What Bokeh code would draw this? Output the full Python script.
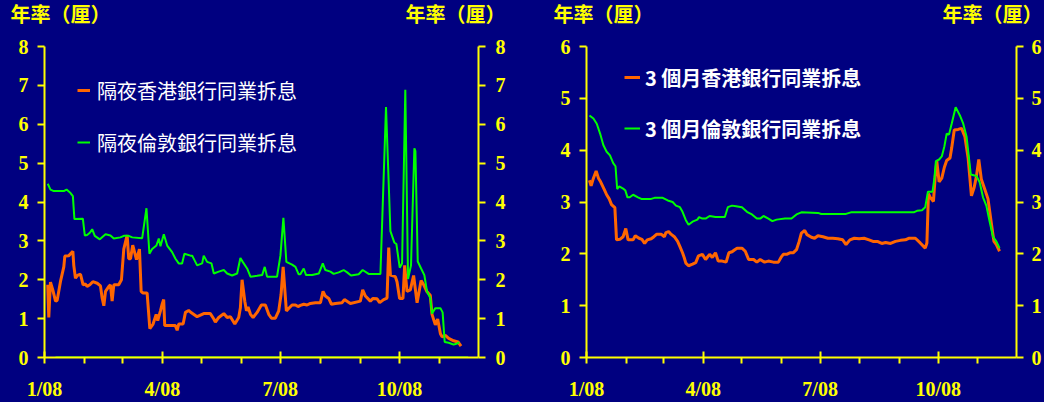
from bokeh.plotting import figure
from bokeh.models import Range1d, LinearAxis, FixedTicker, Label, Legend, LegendItem
from bokeh.layouts import row, column
from bokeh.embed import file_html
from bokeh.resources import INLINE

BG = "#000080"
YEL = "#FFFF00"
ORANGE = "#FF6600"
GREEN = "#00FF00"
WHITE = "#FFFFFF"

# x positions are days since 1 Jan 2008
month_ticks = [0, 91, 182, 274]
month_labels = ["1/08", "4/08", "7/08", "10/08"]
minor_month_ticks = [31, 60, 121, 152, 213, 244, 305]
x_start, x_end = 0, 335

axis_title = "年率（厘）"

# ---- Left panel: overnight rates ----
on_hibor_label = "隔夜香港銀行同業拆息"
on_hibor_day = [2.5, 3.3, 4.6, 6.4, 8.5, 9.8, 12.3, 14.9, 15.7, 18.8, 21.9, 22.6, 23.9, 25.7, 27.8,
                29.8, 31.6, 32.9, 35, 37.3, 40.7, 43.2, 44.5, 45.8, 47.1, 49.7, 50.9, 52.2, 53.5,
                57.3, 59.4, 61.2, 63.8, 65, 66.4, 68.1, 71, 73.3, 74.6, 75.9, 79.2, 81.3, 83.8,
                86.2, 87.4, 89.5, 90.8, 92, 92.8, 98.5, 101, 102.4, 103.6, 107, 108.8, 111.3,
                112.6, 117.8, 122.9, 128, 130.7, 131.9, 134.5, 138.4, 141, 143.5, 146.9, 149.9,
                151.2, 152.5, 154.6, 155.9, 157.1, 159, 161, 164.1, 167.4, 170.5, 173.1, 175.2,
                178.2, 180.8, 182.6, 184.2, 185.4, 186.7, 189, 191.1, 193.7, 195.7, 197.5, 200.1,
                202.7, 205.2, 209.1, 213, 215, 216.8, 219.4, 221.5, 224.5, 229.7, 231.5, 236.1,
                243.8, 245.6, 247.7, 251.5, 253.6, 256.7, 258.7, 261.8, 264.4, 265.7, 267, 270.8,
                272.1, 274.1, 276.7, 278, 279.8, 282.4, 284.9, 287.6, 290.7, 292.7, 295.3, 297.8,
                299.1, 301.7, 303.5, 305.6, 306.9, 309.4, 312, 315.8, 319.2, 321.5]
on_hibor = [1.87, 1.03, 1.94, 1.74, 1.45, 1.47, 1.95, 2.33, 2.61, 2.62, 2.73, 2.37, 2.04, 2.12, 2.14,
            1.87, 1.89, 1.83, 1.87, 1.95, 1.91, 1.84, 1.53, 1.33, 1.70, 1.83, 1.87, 1.45, 1.87,
            1.87, 2.0, 2.79, 3.15, 2.54, 2.54, 2.89, 2.52, 2.79, 1.70, 1.66, 1.66, 0.74, 0.86,
            1.11, 0.95, 1.20, 1.37, 1.49, 0.82, 0.82, 0.82, 0.70, 0.86, 0.86, 1.16, 1.21,
            1.17, 1.05, 1.13, 1.13, 0.99, 0.91, 1.03, 1.13, 1.03, 1.05, 0.86, 1.03,
            1.28, 2.0, 1.45, 1.20, 1.30, 1.11, 1.03, 1.16, 1.35, 1.35, 1.11, 1.01,
            1.01, 1.20, 1.62, 2.33, 1.79, 1.20, 1.28, 1.35, 1.35, 1.31, 1.34, 1.37,
            1.35, 1.39, 1.41, 1.41, 1.70, 1.58, 1.52, 1.37, 1.39, 1.41, 1.49, 1.39,
            1.45, 1.74, 1.58, 1.45, 1.52, 1.51, 1.41, 1.49, 1.53, 2.83, 2.12, 2.08,
            1.95, 1.52, 1.52, 2.37, 1.70, 1.74, 2.11, 1.41, 1.98, 1.87, 1.69, 1.60,
            1.11, 0.84, 0.99, 0.61, 0.53, 0.57, 0.49, 0.43, 0.40, 0.29]

on_libor_label = "隔夜倫敦銀行同業拆息"
on_libor_day = [2.5, 4.6, 7.2, 14.9, 17, 20.1, 21.9, 23.1, 29.6, 31.1, 32.9, 35, 36.8, 38.8, 42.7,
                47.1, 50.9, 53.5, 58.6, 61.2, 65, 67.7, 75.4, 78.7, 81, 83.1, 86.4, 88.2, 89.5,
                92.1, 94.7, 98.5, 101.1, 103.6, 106.2, 108, 112.7, 114, 117.8, 121.7, 122.9,
                125.5, 128.9, 130.7, 134.5, 138.4, 141, 144.8, 148.7, 151.2, 153, 156.4, 159,
                164.1, 168, 170, 171.8, 179.5, 182.1, 184.4, 186.7, 191.1, 193.7, 196.2, 197.5,
                200.1, 201.9, 206.6, 211.7, 214.8, 216.8, 220.7, 223.2, 227.1, 230.9, 233.6,
                236.6, 242.5, 245.6, 250.2, 259.3, 263.6, 267, 270, 271.6, 274.2, 276, 278.5,
                280.6, 282.9, 285.5, 286.3, 288.1, 290.7, 293.2, 295.3, 297.8, 299.1, 301.7,
                305.6, 307.3, 308.9, 312, 315.8, 318.4, 320.2]
on_libor = [4.47, 4.32, 4.28, 4.28, 4.32, 4.23, 4.15, 3.56, 3.57, 3.14, 3.15, 3.21, 3.30, 3.13, 3.04,
            3.17, 3.14, 3.06, 3.09, 3.13, 3.13, 3.09, 3.07, 3.84, 2.67, 2.79, 2.88, 3.06, 2.86,
            3.17, 2.88, 2.71, 2.54, 2.42, 2.42, 2.67, 2.62, 2.62, 2.37, 2.42, 2.62,
            2.46, 2.42, 2.16, 2.21, 2.25, 2.16, 2.11, 2.16, 2.56, 2.46, 2.29, 2.08,
            2.10, 2.12, 2.33, 2.08, 2.08, 2.62, 3.59, 2.46, 2.39, 2.33, 2.14, 2.14,
            2.29, 2.12, 2.12, 2.16, 2.42, 2.25, 2.21, 2.15, 2.19, 2.25, 2.19,
            2.11, 2.14, 2.25, 2.15, 2.15, 6.44, 3.25, 2.96, 2.92, 2.31, 2.42, 6.89,
            2.02, 2.37, 5.38, 5.31, 2.47, 2.29, 2.12, 1.69, 1.53, 1.13, 1.27,
            1.27, 1.16, 0.40, 0.38, 0.33, 0.36, 0.39]

# green zero-level trace along the bottom of the left panel
zero_trace_day = [8.5, 327]
zero_trace = [0, 0]

# ---- Right panel: 3-month rates ----
m3_hibor_label = "3 個月香港銀行同業拆息"
m3_hibor_day = [2.3, 3.6, 5.4, 7.5, 9.3, 11, 13.7, 15.7, 17.7, 19.5, 22.1, 23.4, 26, 28.5, 30.6,
                32.4, 36.3, 38, 40.9, 43.2, 45.3, 47.3, 50.4, 52.5, 54.8, 58.1, 60.7, 61.9, 64,
                65.8, 68.4, 71, 72.8, 74.8, 76.1, 77.4, 79.5, 82.6, 85.1, 87.2, 90.3, 92.8, 95.9,
                98, 100.5, 102.6, 105.7, 108.8, 110.9, 113.4, 115.5, 117.3, 121.1, 123.7, 126.3,
                130.2, 132.7, 135.3, 138.7, 141.7, 145.6, 149.5, 151.5, 153.3, 155.9, 158.4, 161,
                163.6, 165.7, 167.4, 170, 171.8, 175.2, 177.7, 180.3, 184.2, 188.1, 191.9, 195.8,
                199.6, 202.2, 205.2, 208.6, 212.4, 216.3, 220.1, 223.2, 226.6, 230, 233, 236.9,
                240.7, 244.6, 248.5, 251, 256.2, 260, 263.9, 265.2, 266.4, 267.8, 270.3, 271.6,
                272.9, 274.7, 276.8, 278.8, 280.6, 283.2, 284.5, 286.5, 289.6, 292.2, 294.8,
                297.3, 299.9, 302, 303.8, 305.6, 307.6, 310.2, 312.8, 315.4, 317.4, 319.3, 321.8]
m3_hibor = [3.42, 3.31, 3.46, 3.60, 3.46, 3.39, 3.25, 3.14, 3.06, 2.95, 2.89, 2.27, 2.28, 2.33, 2.49,
            2.27, 2.27, 2.35, 2.30, 2.28, 2.20, 2.27, 2.29, 2.33, 2.38, 2.38, 2.33, 2.41, 2.43,
            2.38, 2.33, 2.24, 2.14, 2.02, 1.93, 1.82, 1.77, 1.80, 1.83, 1.96, 1.99, 1.89, 1.99,
            1.93, 2.02, 1.86, 1.86, 1.84, 2.02, 2.04, 2.08, 2.11, 2.11, 2.05, 1.89,
            1.89, 1.84, 1.89, 1.84, 1.86, 1.84, 1.84, 1.93, 1.99, 1.99, 2.02, 2.02,
            2.08, 2.24, 2.40, 2.45, 2.37, 2.32, 2.30, 2.35, 2.33, 2.30, 2.30, 2.29,
            2.27, 2.18, 2.27, 2.30, 2.29, 2.30, 2.27, 2.24, 2.24, 2.20, 2.22, 2.20,
            2.24, 2.26, 2.27, 2.30, 2.30, 2.21, 2.11, 2.21, 3.16, 3.09, 3.01, 3.47,
            3.79, 3.39, 3.46, 3.67, 3.80, 3.85, 4.04, 4.39, 4.40, 4.42, 4.26,
            3.85, 3.12, 3.28, 3.50, 3.82, 3.44, 3.25, 3.06, 2.59, 2.24, 2.18, 2.05]

m3_libor_label = "3 個月倫敦銀行同業拆息"
m3_libor_day = [2.3, 5.4, 8, 10.6, 13.1, 15.7, 18.3, 20.8, 22.6, 23.9, 25.5, 28.5, 30.3, 31.9, 33.7,
                36.3, 40.1, 42.7, 50.4, 53, 59.4, 63.3, 67.1, 69.7, 72.8, 74.8, 77.4, 79.5, 82.6,
                86.4, 87.7, 90.3, 92.8, 95.9, 100.5, 107.8, 110.1, 113.4, 116.5, 121.1, 125,
                128.9, 132.7, 135.3, 137.9, 141.7, 144.8, 148.1, 154.6, 159.7, 163.6, 167.4,
                180.3, 182.9, 202.2, 206, 230.5, 254.9, 257.5, 261.4, 263.9, 266, 269.6, 271.1,
                272.2, 274.7, 276.8, 278.8, 280.6, 282.4, 284.5, 287.6, 290.9, 293.5, 296.1,
                299.4, 303.8, 306.3, 308.9, 311.5, 314.1, 316.7, 319.3, 321.8]
m3_libor = [4.67, 4.61, 4.51, 4.32, 4.10, 3.97, 3.90, 3.75, 3.69, 3.25, 3.30, 3.26, 3.22, 3.09, 3.09,
            3.14, 3.09, 3.06, 3.06, 3.08, 3.08, 3.03, 3.00, 2.93, 2.90, 2.81, 2.65, 2.56, 2.62,
            2.66, 2.71, 2.68, 2.68, 2.73, 2.71, 2.71, 2.90, 2.93, 2.92, 2.90, 2.81,
            2.76, 2.68, 2.68, 2.73, 2.68, 2.63, 2.66, 2.68, 2.68, 2.76, 2.80,
            2.79, 2.77, 2.77, 2.80, 2.80, 2.80, 2.83, 2.84, 2.90, 3.20, 3.20, 3.47,
            3.79, 3.82, 3.88, 4.07, 4.32, 4.30, 4.51, 4.83, 4.67, 4.51, 4.26,
            3.53, 3.50, 3.38, 3.09, 2.93, 2.62, 2.33, 2.24, 2.11]

left_y_max, right_y_max = 8, 6

FIG_W = 522
HEAD_H = 36
MAIN_H = 366
FRAME_H = 312
TOP = 10
BOTTOM = MAIN_H - TOP - FRAME_H


def style_common(ax):
    ax.axis_line_color = YEL
    ax.axis_line_width = 2
    ax.major_tick_line_color = YEL
    ax.major_tick_line_width = 2
    ax.minor_tick_line_color = YEL
    ax.minor_tick_line_width = 2
    ax.major_label_text_color = YEL
    ax.major_label_text_font = "Liberation Serif"
    ax.major_label_text_font_style = "bold"
    ax.major_label_text_font_size = "20px"


def make_header(left_x, right_x):
    h = figure(width=FIG_W, height=HEAD_H, x_range=Range1d(0, FIG_W), y_range=Range1d(0, HEAD_H),
               output_backend="svg", toolbar_location=None,
               x_axis_location=None, y_axis_location=None,
               background_fill_color=BG, border_fill_color=BG, outline_line_color=None,
               min_border=0)
    h.grid.visible = False
    for x, align in ((left_x, "left"), (right_x, "right")):
        h.add_layout(Label(x=x, y=HEAD_H - 13, x_units="screen", y_units="screen",
                           text=axis_title, text_color=YEL, text_font="Noto Sans CJK TC",
                           text_font_style="bold", text_font_size="20px",
                           text_align=align, text_baseline="middle"))
    return h


def make_panel(ymax, border_left, frame_w, right_standoff, legend_items_spec, legend_pos,
               glyph_w, standoff, spacing, label_style, lines):
    border_right = FIG_W - border_left - frame_w
    p = figure(width=FIG_W, height=MAIN_H, x_range=Range1d(x_start, x_end),
               y_range=Range1d(0, ymax), output_backend="svg", toolbar_location=None,
               background_fill_color=BG, border_fill_color=BG, outline_line_color=None,
               min_border_left=border_left, min_border_right=border_right,
               min_border_top=TOP, min_border_bottom=BOTTOM)
    p.grid.visible = False

    p.yaxis.ticker = FixedTicker(ticks=list(range(0, ymax + 1)))
    right_axis = LinearAxis(ticker=FixedTicker(ticks=list(range(0, ymax + 1))))
    p.add_layout(right_axis, "right")
    for ax in (p.yaxis[0], right_axis):
        style_common(ax)
        ax.major_tick_in = 0
        ax.major_tick_out = 7
        ax.minor_tick_line_color = None
    p.yaxis[0].major_label_standoff = 9
    right_axis.major_label_standoff = right_standoff

    xa = p.xaxis[0]
    xa.ticker = FixedTicker(ticks=month_ticks, minor_ticks=minor_month_ticks)
    xa.major_label_overrides = {t: l for t, l in zip(month_ticks, month_labels)}
    style_common(xa)
    xa.major_tick_in = 6
    xa.major_tick_out = 6
    xa.minor_tick_in = 0
    xa.minor_tick_out = 6
    xa.major_label_standoff = 14

    renderers = {}
    for key, xs, ys, color, width in lines:
        renderers[key] = p.line(xs, ys, line_color=color, line_width=width)

    items = [LegendItem(label=lab, renderers=[renderers[k]]) for k, lab in legend_items_spec]
    legend = Legend(items=items, location=legend_pos, padding=0, margin=0,
                    border_line_color=None, background_fill_alpha=0,
                    glyph_width=glyph_w, glyph_height=30, label_height=30,
                    label_standoff=standoff, spacing=spacing,
                    label_text_color=WHITE, label_text_font="Noto Sans CJK TC",
                    label_text_font_size="20px", label_text_font_style=label_style)
    p.add_layout(legend, "center")
    return p


h1 = make_header(10, 505)
p1 = make_panel(
    left_y_max, 44, 434, 10,
    [("hk", on_hibor_label), ("ld", on_libor_label)],
    (33, 200), 13, 7, 22, "normal",
    [("zero", zero_trace_day, zero_trace, GREEN, 2),
     ("hk", on_hibor_day, on_hibor, ORANGE, 3),
     ("ld", on_libor_day, on_libor, GREEN, 2)])

h2 = make_header(31, 520)
p2 = make_panel(
    right_y_max, 64, 432, 8,
    [("hk", m3_hibor_label), ("ld", m3_libor_label)],
    (38, 214), 16, 5, 21, "bold",
    [("hk", m3_hibor_day, m3_hibor, ORANGE, 3),
     ("ld", m3_libor_day, m3_libor, GREEN, 2)])

bg_style = {"background-color": BG}
top_row = row(h1, h2, spacing=0, styles=bg_style)
bottom_row = row(p1, p2, spacing=0, styles=bg_style)
layout = column(top_row, bottom_row, spacing=0, styles=bg_style)

open("out.html", "w").write(file_html(layout, INLINE))
